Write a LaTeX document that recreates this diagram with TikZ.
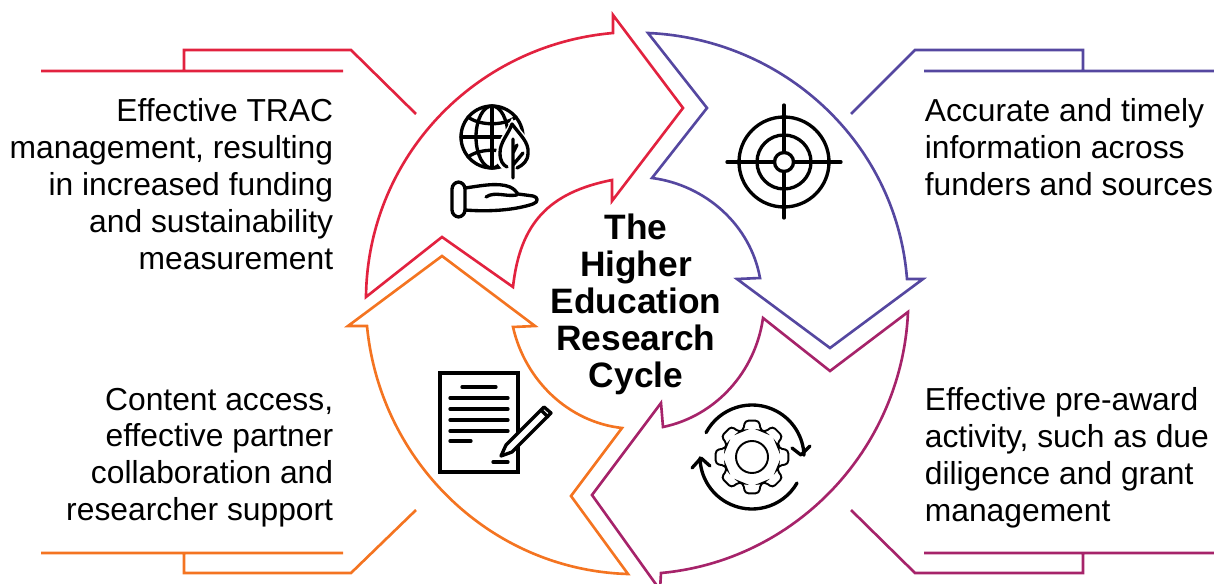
\documentclass[tikz,border=0pt]{standalone}
\usepackage{fontspec}
\setmainfont{Liberation Sans}
\definecolor{cyclered}{HTML}{E2223F}
\definecolor{cycleblue}{HTML}{5547A0}
\definecolor{cycleplum}{HTML}{A6236A}
\definecolor{cycleorange}{HTML}{F47421}
\tikzset{
  arrowline/.style={line width=1.5pt,line join=miter,miter limit=10},
  icon/.style={line width=1.9pt,black,line cap=round,line join=round},
  note/.style={inner sep=0pt,font=\fontsize{18.1}{21}\selectfont}
}
\begin{document}
\begin{tikzpicture}[x=0.02cm,y=-0.02cm]
\clip (0,0) rectangle (1214,584);
% arrows
\draw[arrowline,cyclered] (366,297) .. controls (367.5,158) and (474.5,45) .. (613,33) -- (613,15) -- (683,108) -- (612,201) -- (612,180) .. controls (549,192.5) and (520,223) .. (513,287) -- (442,237) -- cycle;
\draw[arrowline,cycleblue] (648,33) .. controls (784,39) and (896.5,143) .. (907,279) -- (923,279) -- (830,348) -- (737,279) -- (760,278) .. controls (750.5,225) and (705.5,185) .. (652,178) -- (707,108) -- cycle;
\draw[arrowline,cycleplum] (908,312) .. controls (902,448) and (796.5,560.6) .. (661,573) -- (660,590) -- (592,495) -- (661,403) -- (663,427) .. controls (716,416) and (755.5,371.5) .. (763,318) -- (830,371) -- cycle;
\draw[arrowline,cycleorange] (367,326) .. controls (380,462) and (491,570) .. (628,574) -- (571,496) -- (622,428) .. controls (568,422) and (525,380) .. (513,327) -- (535,326) -- (442,256) -- (348,326) -- cycle;
% leader lines
\draw[arrowline,cyclered] (41,71) -- (343,71) (184,71) -- (184,50) -- (351,50) -- (416,114);
\draw[arrowline,cycleblue] (924,71) -- (1214,71) (1083,71) -- (1083,50) -- (915,50) -- (851,114);
\draw[arrowline,cycleorange] (41,553) -- (343,553) (184,553) -- (184,573) -- (351,573) -- (416,510);
\draw[arrowline,cycleplum] (924,553) -- (1214,553) (1083,553) -- (1083,573) -- (915,573) -- (851,510);
% texts
\node[note,anchor=north east,align=right] (tracnote) at (333.5,98.5) {Effective TRAC\\management, resulting\\in increased funding\\and sustainability\\measurement};
\node[note,anchor=north east,align=right] (accessnote) at (333.5,387.5) {Content access,\\effective partner\\collaboration and\\researcher support};
\node[note,anchor=north west,align=left] (fundernote) at (924.5,98.5) {Accurate and timely\\information across\\funders and sources};
\node[note,anchor=north west,align=left] (preawardnote) at (924.5,387.5) {Effective pre-award\\activity, such as due\\diligence and grant\\management};
\node[inner sep=0pt,anchor=north,align=center,font=\fontsize{20.1}{21}\selectfont\bfseries] (cyclelabel) at (636,214) {The\\Higher\\Education\\Research\\Cycle};
% globe, tree and hand
\draw[icon] (492,137) circle (31);
\draw[icon] (492,137) ellipse (16 and 31);
\draw[icon] (492,106) -- (492,168) (461,137) -- (523,137);
\draw[icon] (468,117) .. controls (480,126) and (504,126) .. (516,117);
\draw[icon] (468,157) .. controls (480,148) and (504,148) .. (516,157);
\fill[white] (512,118) .. controls (520,132) and (534,140) .. (532,155) .. controls (531,166) and (522,172) .. (513,172) .. controls (504,172) and (495,166) .. (496,153) .. controls (497,140) and (506,132) .. (512,118) -- cycle;
\draw[icon] (517,168) .. controls (523,165) and (528,161) .. (528,153) .. controls (529,142) and (520,135) .. (512,124) .. controls (508,135) and (500,142) .. (500,153) .. controls (500,161) and (503,165) .. (507,167);
\draw[icon] (513,139) -- (513,178) (513,165) -- (523,153) (513,153) -- (517,145);
\draw[icon,rounded corners=4] (452,182) rectangle (465,217);
\draw[icon] (465,188) .. controls (480,186) and (498,182) .. (510,187) .. controls (514,189) and (516,191) .. (518,194) -- (533,196) .. controls (538,197) and (539,202) .. (533,204) .. controls (515,210) and (490,212) .. (465,210);
\draw[icon] (486,197) .. controls (495,191) and (505,197) .. (517,195);
% target
\draw[icon] (784,162) circle (45) (784,162) circle (27) (784,162) circle (9.5);
\draw[icon] (727,162) -- (774.5,162) (793.5,162) -- (841,162) (784,105) -- (784,152.5) (784,171.5) -- (784,218);
% document and pencil
\draw[icon,line join=miter] (440,373) rectangle (518,472);
\foreach \y in {398,409,420,431} {
  \draw[icon] (450,\y) -- (508,\y);
}
\draw[icon] (462,387) -- (496,387) (450,441) -- (471,441) (493,462) -- (508,462);
\filldraw[icon,fill=white] (501,456) -- (506,445) -- (544,407) -- (551,413) -- (512,452) -- cycle;
\draw[icon] (541,410) -- (548,417);
% gear and arrows
\begin{scope}[shift={(752,457)}]
\draw[line width=1.1pt,rounded corners=2] (-18:28) \foreach \a in {0,45,...,315} {-- (\a-18:28) -- (\a-11:37) -- (\a+11:37) -- (\a+18:28)} -- cycle;
\draw[line width=1.1pt] (0,0) circle (16);
\draw[icon] (208:52) arc[start angle=208,end angle=358,radius=52];
\draw[icon] (30:52) arc[start angle=30,end angle=179,radius=52];
\draw[icon] (40,-9) -- (49,-2) -- (58,-11);
\draw[icon] (-60,11) -- (-51,1) -- (-42,9);
\end{scope}
\end{tikzpicture}
\end{document}
